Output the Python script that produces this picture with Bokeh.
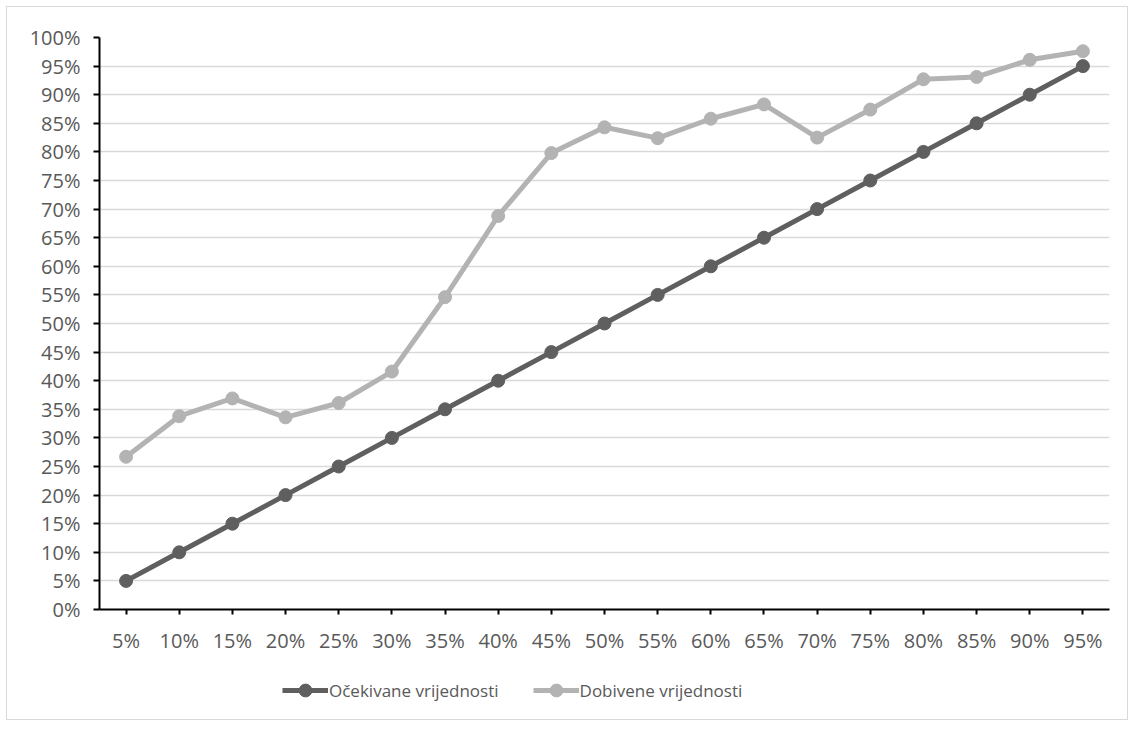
from bokeh.plotting import figure
from bokeh.layouts import column
from bokeh.models import FactorRange, Range1d, FixedTicker, PrintfTickFormatter, Legend, LegendItem
from bokeh.embed import file_html
from bokeh.resources import INLINE

categories = ["5%", "10%", "15%", "20%", "25%", "30%", "35%", "40%", "45%", "50%",
              "55%", "60%", "65%", "70%", "75%", "80%", "85%", "90%", "95%"]
expected = [5, 10, 15, 20, 25, 30, 35, 40, 45, 50, 55, 60, 65, 70, 75, 80, 85, 90, 95]
obtained = [26.7, 33.8, 36.9, 33.6, 36.1, 41.6, 54.6, 68.8, 79.8, 84.3,
            82.4, 85.8, 88.3, 82.5, 87.4, 92.7, 93.1, 96.1, 97.6]
y_ticks = list(range(0, 101, 5))
series_names = ["Očekivane vrijednosti", "Dobivene vrijednosti"]

FONT = "Open Sans"
TXT = "#595959"
DARK = "#5f5f5f"
LIGHT = "#b3b3b3"

p = figure(width=1120, height=660, output_backend="svg", toolbar_location=None,
           x_range=FactorRange(factors=categories, range_padding=0),
           y_range=Range1d(0, 100),
           min_border_left=92, min_border_right=18, min_border_top=30, min_border_bottom=58)
p.outline_line_color = None
p.background_fill_color = "white"
p.border_fill_color = "white"

p.xgrid.grid_line_color = None
p.ygrid.grid_line_color = "#d9d9d9"
p.ygrid.grid_line_width = 1.5
p.yaxis.ticker = FixedTicker(ticks=y_ticks)
p.yaxis.formatter = PrintfTickFormatter(format="%d%%")

for ax in (p.xaxis[0], p.yaxis[0]):
    ax.axis_line_color = "black"
    ax.axis_line_width = 2
    ax.major_tick_line_color = "black"
    ax.major_tick_line_width = 2
    ax.major_tick_in = 0
    ax.minor_tick_line_color = None
    ax.major_label_text_font = FONT
    ax.major_label_text_font_size = "20px"
    ax.major_label_text_color = TXT
p.yaxis.major_tick_out = 6
p.yaxis.major_label_standoff = 13
p.xaxis.major_tick_out = 5
p.xaxis.major_label_standoff = 12

p.line(categories, expected, line_color=DARK, line_width=5)
p.scatter(categories, expected, size=13, fill_color=DARK, line_color=DARK)
p.line(categories, obtained, line_color=LIGHT, line_width=5)
p.scatter(categories, obtained, size=13, fill_color=LIGHT, line_color=LIGHT)

# legend strip below the chart (series drawn out of view, only their legend glyphs show)
lg = figure(width=1120, height=52, output_backend="svg", toolbar_location=None,
            x_range=FactorRange(factors=categories, range_padding=0),
            y_range=Range1d(1000, 1001),
            x_axis_location=None, y_axis_location=None,
            min_border_left=0, min_border_right=0, min_border_top=0, min_border_bottom=0)
lg.outline_line_color = None
lg.xgrid.grid_line_color = None
lg.ygrid.grid_line_color = None
d1 = lg.line(categories, expected, line_color=DARK, line_width=5)
e1 = lg.scatter(categories, expected, size=13, fill_color=DARK, line_color=DARK)
d2 = lg.line(categories, obtained, line_color=LIGHT, line_width=5)
e2 = lg.scatter(categories, obtained, size=13, fill_color=LIGHT, line_color=LIGHT)

legend = Legend(items=[LegendItem(label=series_names[0], renderers=[d1, e1]),
                       LegendItem(label=series_names[1], renderers=[d2, e2])],
                orientation="horizontal", location=(183, 13))
legend.border_line_color = None
legend.background_fill_alpha = 0
legend.label_text_font = FONT
legend.label_text_font_size = "17px"
legend.label_text_color = TXT
legend.glyph_width = 46
legend.glyph_height = 32
legend.label_standoff = 1
legend.spacing = 34
legend.margin = 0
legend.padding = 0
legend.label_height = 20
lg.add_layout(legend, "center")

layout = column(p, lg, spacing=0,
                styles={"margin": "6px 0 0 6px", "border": "1px solid #d9d9d9",
                        "background-color": "white"})

open("out.html", "w").write(file_html(layout, INLINE))
